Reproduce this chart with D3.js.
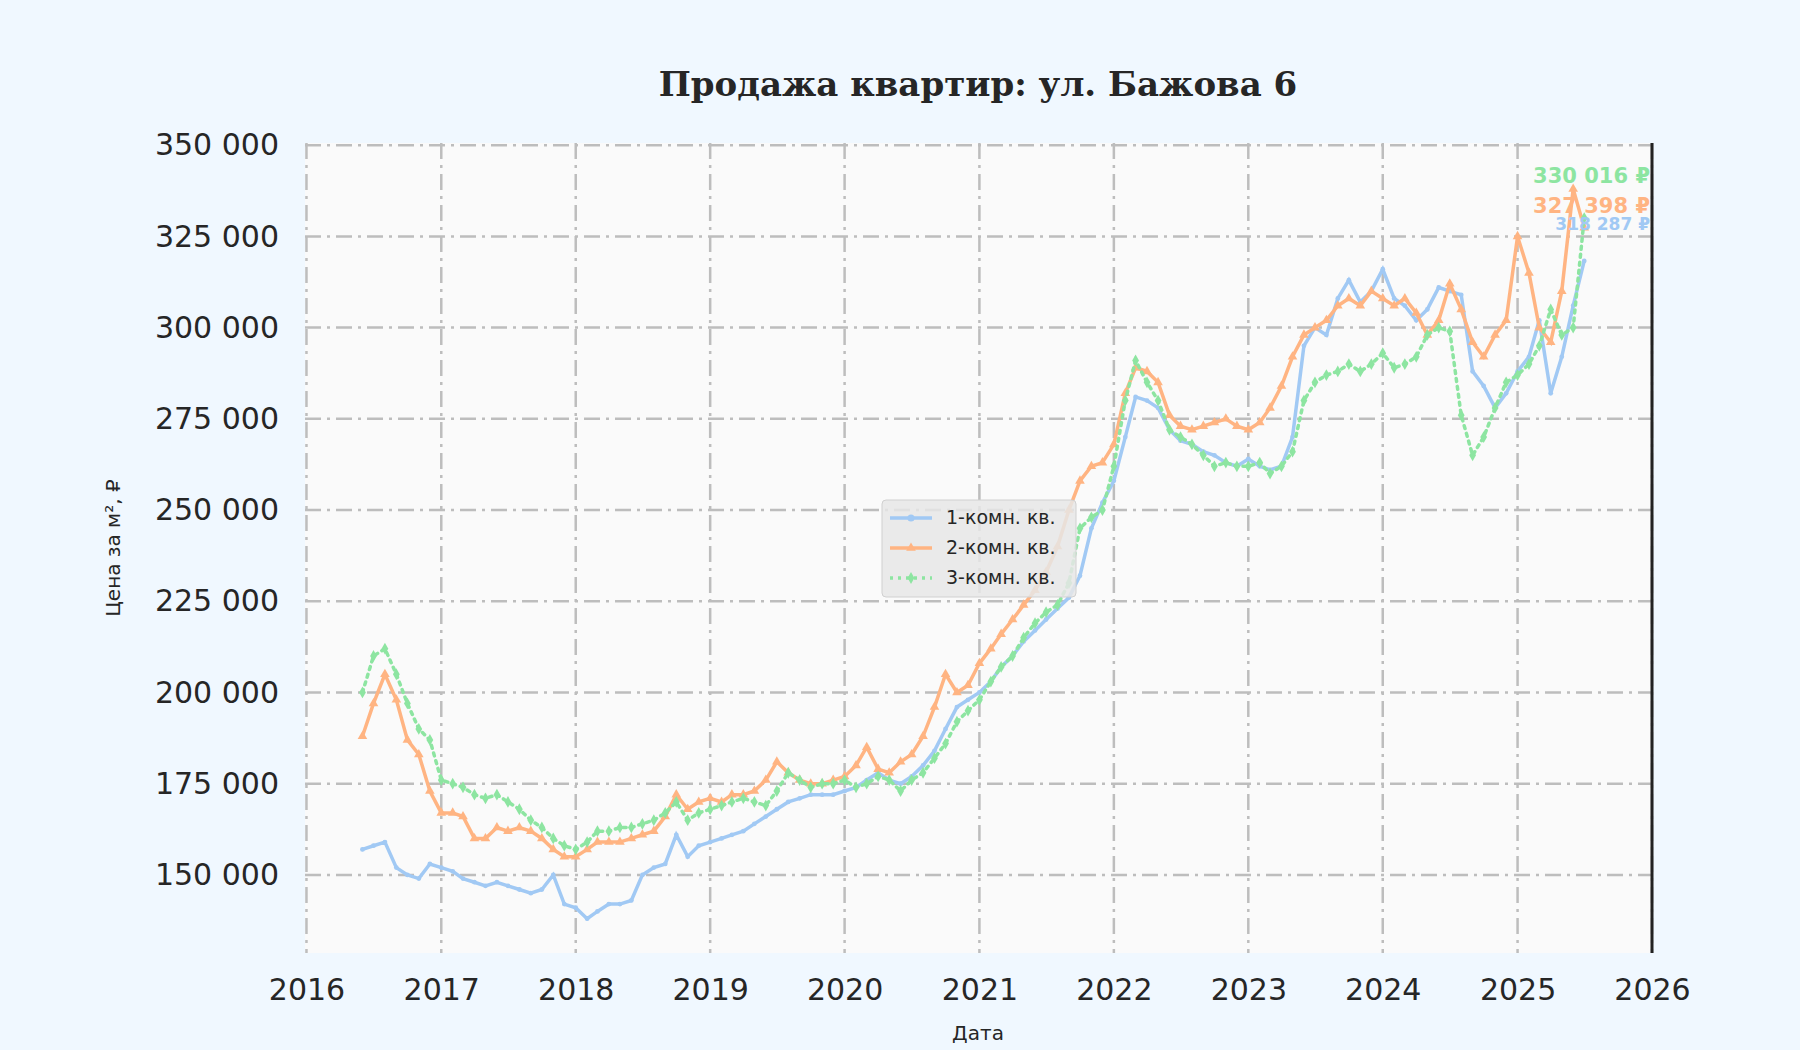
<!DOCTYPE html>
<html><head><meta charset="utf-8">
<script src="https://cdn.jsdelivr.net/npm/d3@7"></script>
<style>body{margin:0;background:#f0f8ff}</style>
</head><body><svg id="chart" width="1800" height="1050"></svg>
<script>
// monthly values, thousands of rubles per m², starting June 2016
const startMonth = "2016-06";
const series = ["1-комн. кв.", "2-комн. кв.", "3-комн. кв."];
const oneRoom = [157,158,159,152,150,149,153,
  152,151,149,148,147,148,147,146,145,146,150,142,
  141,138,140,142,142,143,150,152,153,161,155,158,
  159,160,161,162,164,166,168,170,171,172,172,172,
  173,174,176,178,176,175,177,180,184,190,196,198,
  200,203,207,210,214,217,220,223,226,232,245,252,
  258,270,281,280,278,272,269,268,266,265,263,262,
  264,262,261,262,270,295,300,298,308,313,307,310,
  316,308,306,302,305,311,310,309,288,284,278,282,
  288,292,302,282,292,306,318.287];
const twoRoom = [188,197,205,198,187,183,173,
  167,167,166,160,160,163,162,163,162,160,157,155,
  155,157,159,159,159,160,161,162,166,172,168,170,
  171,170,172,172,173,176,181,178,176,175,175,176,
  177,180,185,179,178,181,183,188,196,205,200,202,
  208,212,216,220,224,228,233,240,250,258,262,263,
  268,282,289,288,285,276,273,272,273,274,275,273,
  272,274,278,284,292,298,300,302,306,308,306,310,
  308,306,308,304,298,302,312,305,296,292,298,302,
  325,315,300,296,310,338,327.398];
const threeRoom = [200,210,212,205,197,190,187,
  176,175,174,172,171,172,170,168,165,163,160,158,
  157,159,162,162,163,163,164,165,167,170,165,167,
  168,169,170,171,170,169,173,178,176,174,175,175,
  176,174,175,177,176,173,176,178,182,186,192,195,
  198,203,207,210,215,219,222,224,230,245,248,250,
  262,280,291,285,280,272,270,268,265,262,263,262,
  262,263,260,262,266,280,285,287,288,290,288,290,
  293,289,290,292,298,300,299,276,265,270,278,285,
  287,290,295,305,298,300,330.016];
const yTicks = [150000,175000,200000,225000,250000,275000,300000,325000,350000];
const xYears = d3.range(2016, 2027);
const colors = ["#a1c9f4", "#ffb482", "#8de5a1"];
const endLabels = ["318 287 ₽", "327 398 ₽", "330 016 ₽"];

const svg = d3.select("#chart");
const m = {left: 305, right: 1652, top: 143, bottom: 953};
const start = d3.timeParse("%Y-%m")(startMonth);
const toRows = arr => arr.map((v, i) => ({date: d3.timeMonth.offset(start, i), value: v * 1000}));
const data = [oneRoom, twoRoom, threeRoom].map(toRows);

const x = d3.scaleTime().domain([new Date(2015, 11, 28), new Date(2026, 0, 1)]).range([m.left, m.right]);
const y = d3.scaleLinear().domain([128600, 350600]).range([m.bottom, m.top]);

svg.append("rect").attr("x", m.left).attr("y", m.top)
  .attr("width", m.right - m.left).attr("height", m.bottom - m.top).attr("fill", "#fafafa");

// grid
const grid = svg.append("g").attr("stroke", "#bdbdbd").attr("stroke-width", 2.5).attr("stroke-dasharray", "16 6 3 6");
grid.selectAll(".gy").data(yTicks).join("line")
  .attr("x1", m.left).attr("x2", m.right).attr("y1", d => y(d)).attr("y2", d => y(d));
grid.selectAll(".gx").data(xYears).join("line")
  .attr("x1", d => x(new Date(d, 0, 1))).attr("x2", d => x(new Date(d, 0, 1)))
  .attr("y1", m.top).attr("y2", m.bottom);

svg.append("line").attr("x1", m.right).attr("x2", m.right).attr("y1", m.top).attr("y2", m.bottom)
  .attr("stroke", "#222").attr("stroke-width", 3);

const fmt = d => d3.format(",")(d).replace(/,/g, " ");
const yAxis = svg.append("g").attr("transform", `translate(${m.left},0)`)
  .call(d3.axisLeft(y).tickValues(yTicks).tickFormat(fmt).tickSize(0).tickPadding(26));
const xAxis = svg.append("g").attr("transform", `translate(0,${m.bottom})`)
  .call(d3.axisBottom(x).tickValues(xYears.map(d => new Date(d, 0, 1))).tickFormat(d3.timeFormat("%Y")).tickSize(0).tickPadding(26));
[yAxis, xAxis].forEach(a => {
  a.select(".domain").remove();
  a.selectAll("text").attr("font-family", "DejaVu Sans").attr("font-size", 30).attr("fill", "#262626");
});

const symbols = [d3.symbolCircle, d3.symbolTriangle, d3.symbolDiamond];
const line = d3.line().x(d => x(d.date)).y(d => y(d.value));
data.forEach((rows, i) => {
  svg.append("path").datum(rows).attr("d", line).attr("fill", "none")
    .attr("stroke", colors[i]).attr("stroke-width", 3.5)
    .attr("stroke-dasharray", i === 2 ? "3 5" : null).attr("stroke-linecap", "round");
  svg.append("g").selectAll("path").data(rows).join("path")
    .attr("transform", d => `translate(${x(d.date)},${y(d.value)})`)
    .attr("d", d3.symbol(symbols[i], i === 0 ? 18 : 40)).attr("fill", colors[i]);
});

// end labels
const labelOffsets = [-31, -18, -36];
const labelSizes = [17, 21, 21];
data.forEach((rows, i) => {
  const last = rows[rows.length - 1];
  svg.append("text").attr("x", m.right - 2).attr("y", y(last.value) + labelOffsets[i] * 1.148)
    .attr("text-anchor", "end").attr("dominant-baseline", "middle")
    .attr("font-family", "DejaVu Sans").attr("font-weight", "bold").attr("font-size", labelSizes[i])
    .attr("fill", colors[i]).text(endLabels[i]);
});

// legend
const lg = svg.append("g").attr("transform", "translate(882,500)");
lg.append("rect").attr("width", 194).attr("height", 97).attr("rx", 4)
  .attr("fill", "#e6e6e6").attr("fill-opacity", 0.85).attr("stroke", "#d0d0d0");
series.forEach((s, i) => {
  const yy = 18 + i * 30;
  lg.append("line").attr("x1", 8).attr("x2", 50).attr("y1", yy).attr("y2", yy)
    .attr("stroke", colors[i]).attr("stroke-width", 3.5).attr("stroke-dasharray", i === 2 ? "3 5" : null);
  lg.append("path").attr("transform", `translate(29,${yy})`).attr("d", d3.symbol(symbols[i], 40)).attr("fill", colors[i]);
  lg.append("text").attr("x", 64).attr("y", yy).attr("dominant-baseline", "middle")
    .attr("font-family", "DejaVu Sans").attr("font-size", 19).attr("fill", "#262626").text(s);
});

svg.append("text").attr("x", 978).attr("y", 96).attr("text-anchor", "middle")
  .attr("font-family", "DejaVu Serif").attr("font-weight", "bold").attr("font-size", 34).attr("fill", "#262626")
  .text("Продажа квартир: ул. Бажова 6");
svg.append("text").attr("x", 978).attr("y", 1040).attr("text-anchor", "middle")
  .attr("font-family", "DejaVu Sans").attr("font-size", 20).attr("fill", "#262626").text("Дата");
svg.append("text").attr("transform", "translate(120,548) rotate(-90)").attr("text-anchor", "middle")
  .attr("font-family", "DejaVu Sans").attr("font-size", 20).attr("fill", "#262626").text("Цена за м², ₽");
</script></body></html>
